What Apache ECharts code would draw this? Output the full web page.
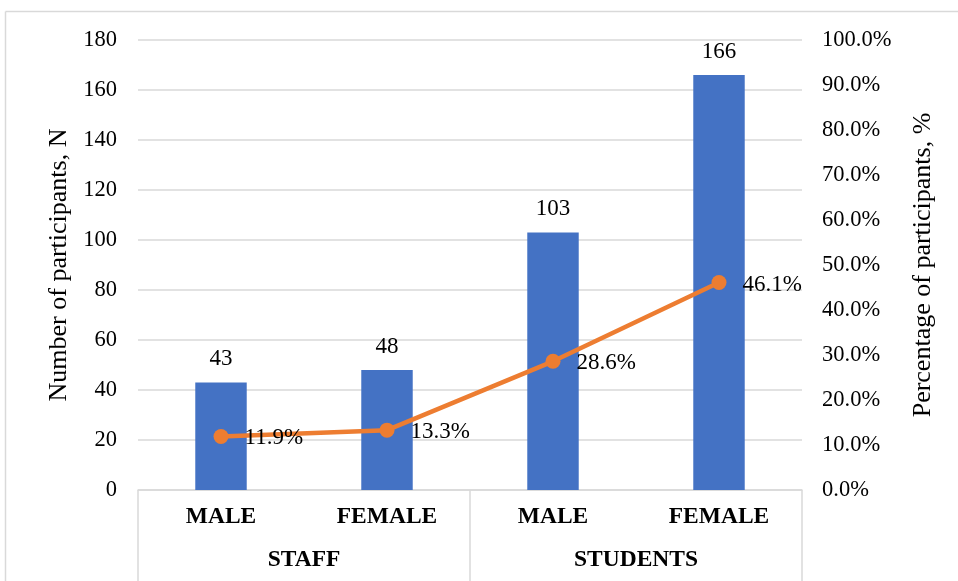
<!DOCTYPE html>
<html>
<head>
<meta charset="utf-8">
<script src="https://cdn.jsdelivr.net/npm/echarts@6/dist/echarts.min.js"></script>
<style>html,body{margin:0;padding:0;background:#fff;}#c{width:958px;height:581px;}</style>
</head>
<body>
<div id="c"></div>
<script>
const genders = ['MALE', 'FEMALE', 'MALE', 'FEMALE'];
const groups = ['STAFF', 'STUDENTS'];
const counts = [43, 48, 103, 166];
const percents = [0.119, 0.133, 0.286, 0.461];
const leftTicks = { min: 0, max: 180, interval: 20 };
const rightTicks = { min: 0, max: 1, interval: 0.1 };

const FONT = '"Liberation Serif", "Times New Roman", serif';
const GRID = '#d9d9d9';

const chart = echarts.init(document.getElementById('c'));
chart.setOption({
  animation: false,
  backgroundColor: '#fff',
  textStyle: { fontFamily: FONT },
  graphic: [
    { type: 'line', shape: { x1: 5.5, y1: 11.5, x2: 958, y2: 11.5 }, style: { stroke: GRID, lineWidth: 1.5 } },
    { type: 'line', shape: { x1: 5.5, y1: 11.5, x2: 5.5, y2: 581 }, style: { stroke: GRID, lineWidth: 1.5 } }
  ],
  grid: { left: 138, right: 156, top: 40, bottom: 91 },
  xAxis: [
    {
      type: 'category', data: genders, position: 'bottom',
      axisLine: { show: true, lineStyle: { color: GRID, width: 1.5 } },
      axisTick: { show: false },
      axisLabel: { fontFamily: FONT, fontSize: 23.5, fontWeight: 'bold', color: '#000', margin: 15, interval: 0 }
    },
    {
      type: 'category', data: groups, position: 'bottom',
      axisLine: { show: false },
      axisTick: { show: true, length: 92, interval: 0, lineStyle: { color: GRID, width: 1.5 } },
      axisLabel: { fontFamily: FONT, fontSize: 23.5, fontWeight: 'bold', color: '#000', margin: 58, interval: 0 }
    }
  ],
  yAxis: [
    {
      type: 'value', min: leftTicks.min, max: leftTicks.max, interval: leftTicks.interval,
      name: 'Number of participants, N', nameLocation: 'middle', nameGap: 66, nameRotate: 90,
      nameTextStyle: { fontFamily: FONT, fontSize: 26, color: '#000' },
      axisLine: { show: false }, axisTick: { show: false },
      axisLabel: { fontFamily: FONT, fontSize: 22.5, color: '#000', margin: 21 },
      splitLine: { show: true, lineStyle: { color: GRID, width: 1.5 } }
    },
    {
      type: 'value', min: rightTicks.min, max: rightTicks.max, interval: rightTicks.interval,
      name: 'Percentage of participants, %', nameLocation: 'middle', nameGap: 108, nameRotate: 90,
      nameTextStyle: { fontFamily: FONT, fontSize: 26, color: '#000' },
      axisLine: { show: false }, axisTick: { show: false },
      axisLabel: { fontFamily: FONT, fontSize: 22.5, color: '#000', margin: 20,
        formatter: v => (v * 100).toFixed(1) + '%' },
      splitLine: { show: false }
    }
  ],
  series: [
    {
      type: 'bar', data: counts, xAxisIndex: 0, yAxisIndex: 0,
      barWidth: '31%',
      itemStyle: { color: '#4472C4' },
      label: { show: true, position: 'top', distance: 12, fontFamily: FONT, fontSize: 23, color: '#000' }
    },
    {
      type: 'line', data: percents, xAxisIndex: 0, yAxisIndex: 1,
      symbol: 'circle', symbolSize: 15,
      lineStyle: { color: '#ED7D31', width: 4.5 },
      itemStyle: { color: '#ED7D31' },
      label: { show: true, position: 'right', distance: 16, offset: [0, 2], fontFamily: FONT, fontSize: 23, color: '#000',
        formatter: p => (p.value * 100).toFixed(1) + '%' }
    }
  ]
});
</script>
</body>
</html>
